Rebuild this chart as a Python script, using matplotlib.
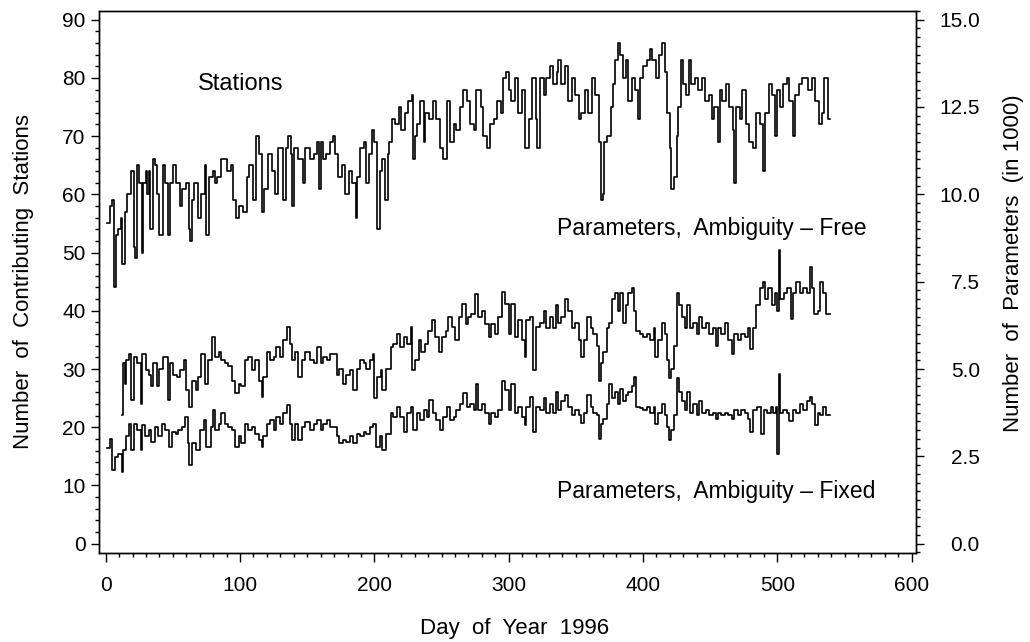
import numpy as np
import matplotlib
matplotlib.use("Agg")
import matplotlib.pyplot as plt
from matplotlib.ticker import MultipleLocator, FormatStrFormatter

plt.rcParams['font.family'] = ['Liberation Sans', 'DejaVu Sans']

# contributing stations per day (left axis)
st_day = [1, 3, 5, 6, 8, 9, 11, 12, 14, 16,
          19, 21, 22, 23, 25, 27, 28, 30, 31, 32,
          33, 35, 37, 38, 40, 43, 44, 46, 48, 50,
          52, 55, 57, 60, 62, 63, 64, 66, 69, 71,
          74, 75, 77, 80, 81, 83, 86, 88, 90, 93,
          95, 97, 99, 102, 105, 107, 110, 112, 114, 116,
          118, 121, 124, 126, 128, 132, 134, 136, 138, 139,
          140, 143, 147, 148, 152, 155, 157, 159, 160, 162,
          164, 167, 169, 171, 173, 176, 178, 181, 183, 186,
          187, 189, 192, 194, 196, 198, 200, 202, 204, 206,
          208, 210, 211, 213, 215, 218, 220, 223, 225, 228,
          229, 230, 232, 234, 237, 238, 241, 244, 246, 249,
          251, 254, 256, 259, 261, 264, 266, 269, 271, 274,
          276, 279, 281, 284, 286, 289, 291, 294, 296, 298,
          300, 302, 305, 307, 310, 312, 315, 317, 320, 321,
          323, 326, 328, 331, 333, 336, 337, 339, 342, 344,
          347, 349, 352, 354, 357, 359, 362, 364, 367, 369,
          370, 371, 373, 376, 378, 379, 381, 383, 385, 387,
          389, 392, 394, 396, 398, 400, 403, 405, 407, 410,
          412, 414, 416, 418, 420, 421, 423, 425, 426, 428,
          430, 432, 434, 436, 439, 441, 444, 446, 449, 451,
          453, 456, 457, 459, 462, 464, 467, 468, 469, 472,
          474, 477, 479, 482, 484, 487, 489, 491, 494, 496,
          498, 500, 502, 504, 507, 509, 512, 513, 516, 518,
          521, 523, 526, 528, 531, 533, 535, 537, 538]
st_num = [55, 58, 59, 44, 53, 54, 56, 48, 57, 60,
          64, 51, 49, 65, 62, 50, 62, 64, 60, 64,
          54, 66, 65, 60, 53, 65, 62, 53, 62, 65,
          62, 58, 61, 62, 54, 52, 59, 62, 56, 60,
          65, 53, 63, 64, 62, 63, 66, 66, 64, 65,
          59, 56, 58, 57, 63, 65, 59, 70, 67, 57,
          61, 67, 64, 60, 68, 59, 68, 70, 67, 58,
          68, 66, 62, 68, 66, 67, 69, 61, 69, 66,
          67, 69, 70, 67, 63, 65, 60, 64, 62, 56,
          63, 68, 69, 62, 67, 71, 69, 54, 64, 66,
          59, 67, 69, 73, 72, 75, 71, 74, 76, 77,
          66, 70, 72, 76, 69, 74, 73, 76, 73, 68,
          66, 76, 69, 72, 71, 75, 78, 76, 72, 71,
          78, 75, 70, 68, 72, 73, 76, 74, 80, 81,
          78, 76, 80, 74, 78, 68, 73, 80, 73, 68,
          80, 77, 80, 82, 79, 81, 83, 79, 82, 76,
          80, 77, 73, 74, 78, 74, 80, 77, 69, 59,
          60, 69, 70, 75, 79, 83, 86, 84, 80, 83,
          76, 80, 78, 73, 80, 82, 83, 85, 83, 80,
          84, 86, 81, 74, 68, 61, 63, 70, 75, 83,
          79, 77, 83, 79, 80, 78, 80, 76, 77, 73,
          75, 69, 78, 76, 79, 75, 71, 62, 75, 73,
          78, 72, 69, 68, 74, 72, 64, 74, 79, 77,
          70, 78, 75, 79, 80, 76, 70, 77, 79, 80,
          80, 78, 80, 76, 72, 74, 80, 80, 73]

# parameters, ambiguity-free (in 1000, right axis)
free_day = [12, 13, 14, 15, 17, 19, 21, 23, 26, 27,
            30, 32, 34, 35, 38, 40, 43, 46, 48, 50,
            53, 55, 58, 60, 62, 64, 67, 69, 71, 74,
            76, 79, 81, 84, 86, 89, 91, 94, 96, 99,
            101, 104, 106, 109, 111, 114, 116, 117, 120, 122,
            125, 127, 130, 132, 135, 137, 139, 141, 143, 146,
            148, 152, 155, 157, 160, 162, 165, 167, 172, 174,
            177, 179, 182, 184, 187, 189, 192, 194, 197, 199,
            200, 202, 205, 206, 209, 212, 214, 217, 219, 222,
            224, 227, 228, 230, 233, 235, 238, 240, 243, 245,
            248, 250, 253, 255, 258, 260, 263, 265, 268, 270,
            272, 275, 277, 280, 282, 285, 287, 290, 292, 295,
            297, 300, 302, 305, 307, 310, 312, 313, 316, 318,
            320,
            323, 326, 328, 331, 333, 335, 337, 339, 342, 344,
            347, 349, 352, 354, 356, 358, 361, 363, 366, 367,
            369, 370, 373, 375, 377, 379, 381, 383, 385, 387,
            389, 392, 393, 395, 398, 400, 403, 405, 408, 409,
            411, 414, 416, 418, 419, 421, 423, 425, 427, 429,
            431, 433, 435, 437, 440, 442, 444, 447, 449, 452,
            454, 456, 458, 461, 463, 466, 468, 471, 473, 476,
            478, 480, 482, 484, 487, 489, 491, 493, 496, 498,
            500, 501, 502, 505, 507, 510, 512, 514, 517, 519,
            522, 524, 526, 527, 530, 532, 534, 536]
free_num = [3.67, 5.17, 4.58, 5.25, 5.43, 4.1, 5.33, 5.17, 4.0, 5.43,
            4.97, 4.83, 4.5, 5.17, 4.5, 5.0, 5.33, 4.1, 5.17, 4.83,
            4.77, 4.97, 5.25, 4.4, 3.92, 4.67, 4.4, 4.77, 5.43, 4.58,
            5.25, 5.92, 5.33, 5.5, 5.25, 5.17, 5.1, 4.67, 4.3, 4.58,
            4.5, 5.25, 5.33, 4.97, 5.25, 4.67, 4.2, 4.77, 5.5, 5.25,
            5.33, 5.63, 5.33, 5.83, 6.2, 5.73, 5.25, 5.5, 4.77, 5.25,
            5.5, 5.25, 5.17, 5.63, 5.17, 5.33, 5.25, 5.43, 4.83, 5.0,
            4.58, 4.83, 4.97, 4.4, 5.0, 5.25, 5.17, 5.0, 5.25, 5.43,
            4.17, 4.77, 4.97, 4.4, 5.0, 5.63, 5.73, 6.0, 5.63, 5.92,
            5.73, 6.2, 4.97, 5.25, 5.83, 5.5, 5.73, 6.1, 6.4, 5.92,
            5.5, 5.92, 6.1, 6.5, 6.2, 5.83, 6.5, 6.87, 6.3, 6.5,
            6.58, 7.15, 6.5, 6.67, 6.3, 5.92, 6.3, 6.0, 6.5, 7.2,
            6.87, 6.0, 6.87, 5.92, 6.4, 5.83, 5.33, 6.4, 6.5, 4.97,
            6.2,
            6.33, 6.67, 6.17, 6.5, 6.17, 6.83, 6.33, 6.5, 7.0, 6.67,
            6.17, 6.33, 5.83, 5.33, 5.83, 6.5, 6.17, 6.0, 5.67, 4.67,
            5.17, 5.5, 6.17, 6.33, 7.0, 7.17, 6.67, 7.17, 6.33, 6.83,
            7.17, 7.33, 6.67, 6.08, 6.0, 5.92, 6.0, 5.83, 6.17, 5.33,
            5.83, 6.33, 6.0, 5.25, 4.73, 5.0, 5.67, 7.17, 6.83, 6.5,
            6.17, 6.83, 6.17, 6.33, 6.0, 6.5, 6.17, 6.33, 6.0, 6.17,
            5.67, 6.17, 6.0, 6.33, 5.83, 5.42, 6.0, 5.83, 6.0, 5.92,
            6.17, 5.58, 6.17, 6.83, 7.33, 7.5, 7.0, 7.33, 6.83, 7.17,
            6.67, 8.42, 7.0, 7.17, 7.33, 6.42, 7.17, 7.5, 7.17, 7.33,
            7.17, 7.92, 7.33, 6.58, 6.67, 7.5, 7.17, 6.58]

# parameters, ambiguity-fixed (in 1000, right axis)
fixed_day = [1, 3, 5, 7, 9, 12, 13, 15, 17, 19,
             21, 23, 26, 27, 29, 32, 34, 37, 39, 42,
             44, 47, 49, 52, 54, 57, 59, 61, 62, 64,
             67, 70, 73, 75, 78, 80, 81, 84, 86, 89,
             91, 94, 96, 99, 101, 104, 106, 109, 111, 114,
             116, 117, 120, 122, 125, 127, 130, 132, 135, 137,
             139, 141, 143, 146, 148, 152, 155, 157, 160, 162,
             165, 167, 172, 174, 177, 179, 182, 184, 187, 189,
             192, 194, 197, 199, 201, 204, 206, 209, 212, 214,
             217, 219, 222, 224, 227, 229, 232, 234, 237, 239,
             241, 244, 246, 249, 251, 254, 256, 259, 261, 264,
             266, 269, 271, 274, 276, 277, 280, 282, 285, 287,
             290, 292, 295, 297, 300, 302, 305, 307, 310, 312,
             313, 316, 318, 320,
             323, 326, 328, 331, 333, 335, 337, 339, 342, 344,
             347, 349, 352, 354, 356, 358, 361, 363, 366, 367,
             369, 370, 373, 375, 377, 379, 381, 383, 385, 387,
             389, 392, 393, 395, 398, 400, 403, 405, 408, 409,
             411, 414, 416, 418, 419, 421, 423, 425, 427, 429,
             431, 433, 435, 437, 440, 442, 444, 447, 449, 452,
             454, 456, 458, 461, 463, 466, 468, 471, 473, 476,
             478, 480, 482, 485, 488, 490, 492, 495, 497, 499,
             500, 501, 502, 504, 507, 509, 512, 514, 517, 519,
             522, 524, 526, 528, 530, 532, 534, 536]
fixed_num = [2.73, 3.0, 2.1, 2.48, 2.58, 2.05, 2.67, 3.07, 3.43, 2.67,
             3.43, 3.25, 2.67, 3.4, 3.07, 3.25, 2.92, 3.33, 3.07, 3.43,
             3.25, 2.77, 3.2, 3.15, 3.25, 3.33, 3.63, 2.87, 2.25, 2.87,
             2.67, 3.25, 3.53, 2.77, 3.33, 3.82, 3.25, 3.43, 3.73, 3.43,
             3.33, 3.25, 2.77, 3.07, 2.87, 3.43, 3.25, 3.33, 3.15, 2.97,
             2.77, 3.07, 3.43, 3.53, 3.25, 3.63, 3.43, 3.73, 3.97, 3.43,
             2.97, 3.43, 2.97, 3.33, 3.48, 3.25, 3.43, 3.53, 3.25, 3.43,
             3.53, 3.33, 3.07, 2.87, 2.97, 2.92, 3.07, 2.87, 3.15, 3.07,
             3.2, 3.15, 3.33, 3.43, 2.77, 3.07, 2.67, 3.15, 3.73, 3.63,
             3.92, 3.63, 3.2, 3.73, 3.92, 3.25, 3.73, 3.53, 3.82, 3.63,
             4.1, 3.73, 3.53, 3.25, 3.63, 3.92, 3.53, 3.63, 3.82, 4.0,
             4.3, 3.92, 4.0, 3.82, 4.58, 3.82, 4.0, 3.73, 3.43, 3.73,
             3.63, 3.82, 4.67, 4.4, 3.82, 4.58, 3.73, 3.92, 3.63, 3.4,
             3.92, 4.2, 3.2, 3.92,
             3.83, 4.17, 3.75, 4.0, 3.75, 4.33, 3.83, 4.08, 4.25, 3.92,
             3.67, 3.83, 3.67, 3.45, 3.75, 4.25, 3.92, 3.75, 3.67, 3.0,
             3.42, 3.58, 4.0, 4.58, 4.17, 4.33, 4.0, 4.42, 4.08, 4.25,
             4.33, 4.5, 4.77, 3.92, 3.88, 3.83, 3.92, 3.75, 3.92, 3.42,
             3.75, 4.0, 3.67, 3.33, 2.97, 3.25, 3.67, 4.73, 4.33, 4.08,
             3.83, 4.33, 3.75, 4.0, 3.67, 4.08, 3.75, 3.83, 3.67, 3.75,
             3.58, 3.75, 3.67, 3.75, 3.67, 3.58, 3.83, 3.67, 3.83, 3.75,
             3.58, 3.2, 3.83, 3.92, 3.15, 3.83, 3.75, 3.92, 3.75, 3.92,
             2.58, 4.87, 3.75, 3.83, 3.75, 3.5, 3.83, 3.75, 4.0, 3.83,
             4.08, 4.2, 4.0, 3.4, 3.75, 3.67, 3.92, 3.67]

LAST_DAY = 539


def steps(days, vals):
    # close the last step at the end of the record
    return np.append(days, LAST_DAY), np.append(vals, vals[-1])


fig = plt.figure(figsize=(10.3, 6.42), dpi=100)
ax = fig.add_axes([0.0964, 0.1386, 0.7929, 0.8444])
ax2 = ax.twinx()

x, y = steps(st_day, st_num)
ax.plot(x, y, drawstyle='steps-post', color='black', lw=1.2)
x, y = steps(free_day, free_num)
ax2.plot(x, y, drawstyle='steps-post', color='black', lw=1.2)
x, y = steps(fixed_day, fixed_num)
ax2.plot(x, y, drawstyle='steps-post', color='black', lw=1.2)

ax.set_xlim(-4.8, 603.2)
ax.set_ylim(-1.6, 91.5)
ax2.set_ylim(-1.6 / 6, 91.5 / 6)

ax.xaxis.set_major_locator(MultipleLocator(100))
ax.xaxis.set_minor_locator(MultipleLocator(10))
ax.yaxis.set_major_locator(MultipleLocator(10))
ax.yaxis.set_minor_locator(MultipleLocator(2))
ax2.yaxis.set_major_locator(MultipleLocator(2.5))
ax2.yaxis.set_minor_locator(MultipleLocator(0.25))
ax2.yaxis.set_major_formatter(FormatStrFormatter('%.1f'))

for a in (ax, ax2):
    for s in a.spines.values():
        s.set_linewidth(1.0)
ax.tick_params(axis='x', which='major', direction='out', length=6.5, width=1.0,
               labelsize=15, pad=10)
ax.tick_params(axis='x', which='minor', direction='out', length=3.2, width=1.0)
ax.tick_params(axis='y', which='major', direction='out', length=5.5, width=1.0,
               labelsize=15, pad=4.5)
ax.tick_params(axis='y', which='minor', direction='out', length=2.8, width=1.0)
ax2.tick_params(axis='y', which='major', direction='out', length=6, width=1.0,
                labelsize=15, pad=40)
ax2.tick_params(axis='y', which='minor', direction='out', length=3, width=1.0)
for lab in ax2.get_yticklabels():
    lab.set_horizontalalignment('right')

ax.set_xlabel('Day  of  Year  1996', fontsize=16)
ax.xaxis.set_label_coords(0.509, -0.119)
ax.set_ylabel('Number  of  Contributing  Stations', fontsize=16)
ax.yaxis.set_label_coords(-0.080, 0.5)
ax2.set_ylabel('Number  of  Parameters  (in 1000)', fontsize=16)
ax2.yaxis.set_label_coords(1.1065, 0.534)

ax.text(68.7, 79, 'Stations', fontsize=17, ha='left', va='center')
ax.text(336, 54.1, 'Parameters,  Ambiguity – Free', fontsize=16.5,
        ha='left', va='center')
ax.text(336, 8.9, 'Parameters,  Ambiguity – Fixed', fontsize=16.5,
        ha='left', va='center')

fig.savefig('out.png', dpi=100)
